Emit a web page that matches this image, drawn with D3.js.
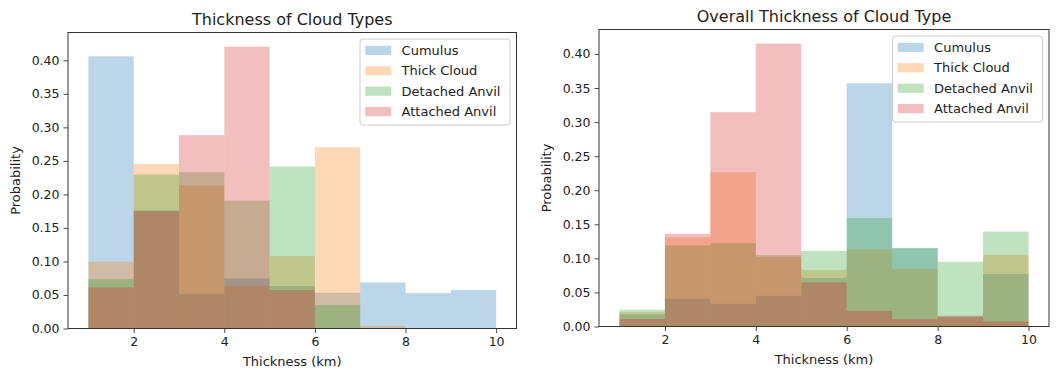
<!DOCTYPE html>
<html>
<head>
<meta charset="utf-8">
<script src="https://cdn.jsdelivr.net/npm/d3@7"></script>
<style>
  body { margin: 0; background: #fff; }
  svg { display: block; }
</style>
</head>
<body>
<div id="chart"></div>
<script>
// ---- data ----
const binEdges = [1, 2, 3, 4, 5, 6, 7, 8, 9, 10];
const seriesNames = ["Cumulus", "Thick Cloud", "Detached Anvil", "Attached Anvil"];
const seriesColors = ["#1f77b4", "#ff7f0e", "#2ca02c", "#d62728"];
const xTicks = [2, 4, 6, 8, 10];
const yTicks = [0, 0.05, 0.10, 0.15, 0.20, 0.25, 0.30, 0.35, 0.40];
const titles = ["Thickness of Cloud Types", "Overall Thickness of Cloud Type"];

// left panel
const cumulusA  = [0.406, 0.1764, 0.0513, 0.0747, 0.0632, 0.0533, 0.0687, 0.0528, 0.0573];
const thickA    = [0.0996, 0.2456, 0.2132, 0.0635, 0.108, 0.2705, 0.0039, 0, 0];
const detachedA = [0.0737, 0.2296, 0.2332, 0.1907, 0.2416, 0.0349, 0, 0, 0];
const attachedA = [0.0613, 0.175, 0.2885, 0.4205, 0.0573, 0, 0, 0, 0];

// right panel
const cumulusB  = [0.018, 0.0406, 0.0333, 0.045, 0.071, 0.357, 0.115, 0.0145, 0.077];
const thickB    = [0.021, 0.131, 0.2265, 0.1018, 0.0827, 0.113, 0.0846, 0.0135, 0.105];
const detachedB = [0.0245, 0.119, 0.1223, 0.105, 0.111, 0.159, 0.115, 0.0949, 0.1394];
const attachedB = [0.011, 0.136, 0.3146, 0.4152, 0.0646, 0.023, 0.0108, 0.0157, 0.0073];

const panels = [
  { title: titles[0], series: [cumulusA, thickA, detachedA, attachedA],
    left: 68, right: 516.5, top: 32.5, bottom: 328.5 },
  { title: titles[1], series: [cumulusB, thickB, detachedB, attachedB],
    left: 599, right: 1049, top: 29.5, bottom: 326.5 }
];

const W = 1062, H = 375;
const FONT = "DejaVu Sans, sans-serif";
const svg = d3.select("#chart").append("svg").attr("width", W).attr("height", H);

panels.forEach(p => {
  const allMax = d3.max(p.series.flat());
  const x = d3.scaleLinear().domain([0.55, 10.45]).range([p.left, p.right]);
  const y = d3.scaleLinear().domain([0, allMax * 1.05]).range([p.bottom, p.top]);
  const g = svg.append("g");

  // bars
  p.series.forEach((vals, si) => {
    g.append("g").selectAll("rect")
      .data(vals.map((v, i) => ({ x0: binEdges[i], x1: binEdges[i] + 1, v })))
      .join("rect")
      .attr("x", d => x(d.x0))
      .attr("width", d => x(d.x1) - x(d.x0))
      .attr("y", d => y(d.v))
      .attr("height", d => y(0) - y(d.v))
      .attr("fill", seriesColors[si])
      .attr("fill-opacity", 0.3);
  });

  // axes
  const xa = g.append("g").attr("transform", `translate(0,${p.bottom})`)
    .call(d3.axisBottom(x).tickValues(xTicks).tickSize(4.5).tickSizeOuter(0).tickPadding(4).tickFormat(d3.format("d")));
  const ya = g.append("g").attr("transform", `translate(${p.left},0)`)
    .call(d3.axisLeft(y).tickValues(yTicks).tickSize(4.5).tickSizeOuter(0).tickPadding(4).tickFormat(d3.format(".2f")));
  [xa, ya].forEach(a => {
    a.select(".domain").remove();
    a.attr("font-family", FONT).attr("font-size", 12.5);
    a.selectAll("text").attr("fill", "#222");
    a.selectAll("line").attr("stroke", "#333").attr("stroke-width", 0.9);
  });

  // frame
  g.append("rect").attr("x", p.left).attr("y", p.top)
    .attr("width", p.right - p.left).attr("height", p.bottom - p.top)
    .attr("fill", "none").attr("stroke", "#333").attr("stroke-width", 1);

  // title
  g.append("text").attr("x", (p.left + p.right) / 2).attr("y", p.top - 8)
    .attr("text-anchor", "middle").attr("font-family", FONT).attr("font-size", 16)
    .attr("fill", "#222").text(p.title);

  // axis labels
  g.append("text").attr("x", (p.left + p.right) / 2).attr("y", p.bottom + 37.5)
    .attr("text-anchor", "middle").attr("font-family", FONT).attr("font-size", 13)
    .attr("fill", "#222").text("Thickness (km)");
  g.append("text")
    .attr("transform", `translate(${p.left - 48.5},${(p.top + p.bottom) / 2}) rotate(-90)`)
    .attr("text-anchor", "middle").attr("font-family", FONT).attr("font-size", 13)
    .attr("fill", "#222").text("Probability");

  // legend
  const lw = 150, lh = 86;
  const lx = p.right - 6.5 - lw, ly = p.top + 6.5;
  const lg = g.append("g");
  lg.append("rect").attr("x", lx).attr("y", ly).attr("width", lw).attr("height", lh)
    .attr("rx", 3).attr("fill", "#fff").attr("fill-opacity", 0.8)
    .attr("stroke", "#ccc").attr("stroke-width", 1);
  seriesNames.forEach((name, i) => {
    const cy = ly + 11.4 + i * 20.4;
    lg.append("rect").attr("x", lx + 5.2).attr("y", cy - 4.6).attr("width", 26).attr("height", 9.2)
      .attr("fill", seriesColors[i]).attr("fill-opacity", 0.3);
    lg.append("text").attr("x", lx + 41.6).attr("y", cy + 4.6)
      .attr("font-family", FONT).attr("font-size", 13).attr("fill", "#222").text(name);
  });
});
</script>
</body>
</html>
